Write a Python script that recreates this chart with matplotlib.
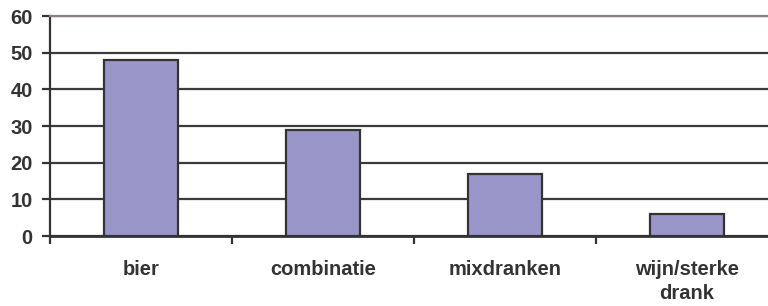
import numpy as np
import matplotlib.pyplot as plt

categories = ['bier', 'combinatie', 'mixdranken', 'wijn/sterke\ndrank']
values = [48, 29, 17, 6]
yticks = [0, 10, 20, 30, 40, 50, 60]

plt.rcParams['font.family'] = ['Liberation Sans', 'DejaVu Sans']

fig = plt.figure(figsize=(7.68, 3.06), dpi=100)
ax = fig.add_axes([50 / 768, 1 - 236 / 306, 728 / 768, 220 / 306])

ind = np.arange(len(categories))
ax.bar(ind, values, 0.41, color='#9b96c9', edgecolor='#333333', linewidth=1.6, zorder=3)

ax.set_xlim(-0.5, len(categories) - 0.5)
ax.set_ylim(0, 60)
ax.set_yticks(yticks)
ax.yaxis.grid(True, color='#3a3a3a', linewidth=1.6, zorder=0)

ax.set_xticks(ind)
ax.set_xticklabels(categories, fontsize=14.5, fontweight='bold', color='#333333',
                   linespacing=1.35)
ax.set_xticks(np.arange(-0.5, len(categories)), minor=True)
ax.tick_params(axis='x', which='major', length=0, pad=17)
ax.tick_params(axis='x', which='minor', length=6, width=1.6, color='#333333', direction='out')
ax.tick_params(axis='y', length=6, width=1.6, color='#333333', direction='out', pad=6.5,
               labelsize=14.5, labelcolor='#333333')
for lab in ax.get_yticklabels():
    lab.set_fontweight('bold')

ax.spines['right'].set_visible(False)
ax.spines['top'].set_color('#8c7f7f')
ax.spines['top'].set_linewidth(1.6)
ax.spines['left'].set_color('#333333')
ax.spines['left'].set_linewidth(1.6)
ax.spines['bottom'].set_color('#333333')
ax.spines['bottom'].set_linewidth(2)
ax.spines['bottom'].set_zorder(4)

fig.savefig('out.png', dpi=100)
